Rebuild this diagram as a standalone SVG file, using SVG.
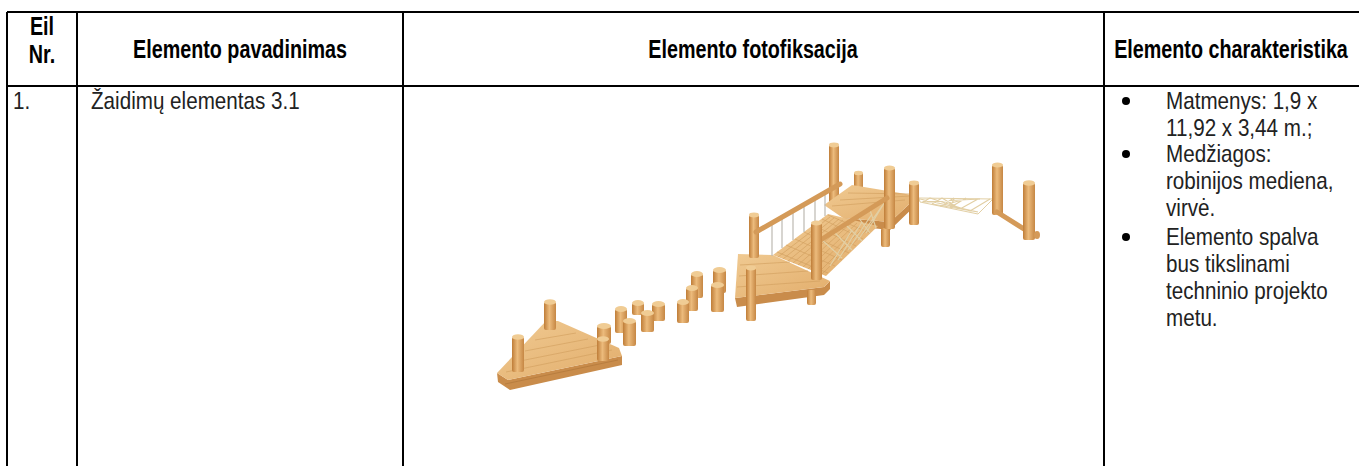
<svg xmlns="http://www.w3.org/2000/svg" width="1359" height="466" viewBox="0 0 1359 466">
<defs>
<style>
.h{font-family:"Liberation Sans",Arial,sans-serif;font-weight:bold;font-size:25px;fill:#000;text-anchor:middle}
.b{font-family:"Liberation Sans",Arial,sans-serif;font-size:24px;fill:#222}
.ln{stroke:#000;stroke-width:2;fill:none}
.post{fill:url(#gPost)}
.cap{fill:#f0cc94}
.deck{fill:url(#gDeck)}
.side{fill:#c98c4b}
.plank{stroke:#d29f5e;stroke-width:0.8;fill:none;opacity:0.8}
.rail{stroke:#d49a58;stroke-width:5;stroke-linecap:round;fill:none}
.rope{stroke:#bdbab2;stroke-width:1.2;fill:none}
.net{stroke:#e2cfa4;stroke-width:1.2;fill:none}
</style>
<linearGradient id="gPost" x1="0" x2="1" y1="0" y2="0">
<stop offset="0" stop-color="#bf7d38"/>
<stop offset="0.45" stop-color="#ecbb7c"/>
<stop offset="1" stop-color="#c68744"/>
</linearGradient>
<linearGradient id="gDeck" x1="0" x2="1" y1="0" y2="1">
<stop offset="0" stop-color="#f0ca92"/>
<stop offset="1" stop-color="#e2ad6b"/>
</linearGradient>
</defs>

<g id="table">
<line class="ln" x1="7" y1="12" x2="1359" y2="12"/>
<line class="ln" x1="7" y1="86" x2="1359" y2="86"/>
<line class="ln" x1="7" y1="12" x2="7" y2="466"/>
<line class="ln" x1="77" y1="12" x2="77" y2="466"/>
<line class="ln" x1="403" y1="12" x2="403" y2="466"/>
<line class="ln" x1="1104" y1="12" x2="1104" y2="466"/>
</g>

<g id="header">
<text class="h" transform="translate(42,35) scale(0.79,1)">Eil</text>
<text class="h" transform="translate(42,63) scale(0.79,1)">Nr.</text>
<text class="h" transform="translate(240,58) scale(0.79,1)">Elemento pavadinimas</text>
<text class="h" transform="translate(753,58) scale(0.79,1)">Elemento fotofiksacija</text>
<text class="h" transform="translate(1231,58) scale(0.79,1)">Elemento charakteristika</text>
</g>

<g id="row1">
<text class="b" transform="translate(13,109) scale(0.86,1)">1.</text>
<text class="b" transform="translate(91,109) scale(0.86,1)">Žaidimų elementas 3.1</text>
<circle cx="1126" cy="101" r="4"/>
<circle cx="1126" cy="154" r="4"/>
<circle cx="1126" cy="237" r="4"/>
<text class="b" transform="translate(1166,109) scale(0.86,1)">Matmenys: 1,9 x</text>
<text class="b" transform="translate(1166,136) scale(0.86,1)">11,92 x 3,44 m.;</text>
<text class="b" transform="translate(1166,162) scale(0.86,1)">Medžiagos:</text>
<text class="b" transform="translate(1166,189) scale(0.86,1)">robinijos mediena,</text>
<text class="b" transform="translate(1166,216) scale(0.86,1)">virvė.</text>
<text class="b" transform="translate(1166,245) scale(0.86,1)">Elemento spalva</text>
<text class="b" transform="translate(1166,272) scale(0.86,1)">bus tikslinami</text>
<text class="b" transform="translate(1166,299) scale(0.86,1)">techninio projekto</text>
<text class="b" transform="translate(1166,326) scale(0.86,1)">metu.</text>
</g>

<g id="photo">
<!-- left triangular platform -->
<polygon class="side" points="497,373 508,380 622,356 622,365 510,390 498,382"/>
<polygon class="deck" points="497,373 546,321 558,321 619,348 622,356 508,380"/>
<path class="plank" d="M506,372 L612,350 M515,362 L600,345 M525,351 L588,339 M535,340 L576,333"/>
<line x1="505" y1="384" x2="618" y2="360" stroke="#b47a3c" stroke-width="0.8"/>
<!-- posts on left platform -->
<rect class="post" x="544" y="302" width="12" height="28" rx="2"/><ellipse class="cap" cx="550" cy="302" rx="6" ry="2.8"/>
<rect class="post" x="597" y="326" width="14" height="18" rx="2"/><ellipse class="cap" cx="604" cy="326" rx="7" ry="3"/>
<rect class="post" x="597" y="339" width="12" height="22" rx="2"/><ellipse class="cap" cx="603" cy="339" rx="6" ry="2.8"/>
<rect class="post" x="512" y="337" width="12" height="35" rx="2"/><ellipse class="cap" cx="518" cy="337" rx="6" ry="2.8"/>

<!-- stepping stumps -->
<rect class="post" x="713" y="270" width="13" height="23" rx="2"/><ellipse class="cap" cx="719.5" cy="270" rx="6.5" ry="3"/>
<rect class="post" x="691" y="274" width="12" height="24" rx="2"/><ellipse class="cap" cx="697" cy="274" rx="6" ry="3"/>
<rect class="post" x="632" y="303" width="12" height="12" rx="2"/><ellipse class="cap" cx="638" cy="303" rx="6" ry="3"/>
<rect class="post" x="652" y="304" width="13" height="17" rx="2"/><ellipse class="cap" cx="658.5" cy="304" rx="6.5" ry="3"/>
<rect class="post" x="686" y="288" width="12" height="23" rx="2"/><ellipse class="cap" cx="692" cy="288" rx="6" ry="3"/>
<rect class="post" x="711" y="285" width="13" height="27" rx="2"/><ellipse class="cap" cx="717.5" cy="285" rx="6.5" ry="3"/>
<rect class="post" x="677" y="302" width="12" height="21" rx="2"/><ellipse class="cap" cx="683" cy="302" rx="6" ry="3"/>
<rect class="post" x="615" y="309" width="12" height="24" rx="2"/><ellipse class="cap" cx="621" cy="309" rx="6" ry="3"/>
<rect class="post" x="641" y="313" width="13" height="19" rx="2"/><ellipse class="cap" cx="647.5" cy="313" rx="6.5" ry="3"/>
<rect class="post" x="623" y="321" width="13" height="25" rx="2"/><ellipse class="cap" cx="629.5" cy="321" rx="6.5" ry="3"/>

<!-- right structure: back posts -->
<rect class="post" x="829" y="145" width="10" height="63" rx="2"/><ellipse class="cap" cx="834" cy="145" rx="5" ry="2.4"/>
<rect class="post" x="854" y="173" width="9" height="17"/><ellipse class="cap" cx="858.5" cy="173" rx="4.5" ry="2.2"/>
<!-- upper platform -->
<polygon class="side" points="843,218 890,222 918,196 918,203 890,230 843,225"/>
<polygon class="deck" points="824,205 852,185 918,196 890,222 843,218"/>
<path class="plank" d="M832,206 L905,200 M840,200 L910,196 M848,193 L914,194"/>
<!-- net between G and H -->
<polygon points="919,198 993,199 978,214 920,202" fill="none" stroke="#e2cfa4" stroke-width="1"/>
<path class="net" d="M930,198 L923,202 M942,198 L932,204 M954,198 L941,206 M966,198 L951,207 M978,199 L960,209 M990,199 L970,211 M932,204 L978,212 M922,202 L980,199 M940,206 L966,199 M950,208 L954,199 M960,209 L942,198 M970,211 L930,198 M978,212 L920,199"/>
<!-- bridge -->
<polygon class="deck" points="773,255 828,214 878,226 826,276"/>
<path class="plank" d="M778,257 L830,217 M783,259 L834,218 M788,261 L839,219 M793,263 L843,220 M798,265 L848,221 M803,267 L852,222 M808,269 L857,223 M813,271 L861,224 M818,273 L866,225 M822,274 L871,226"/>
<path class="plank" d="M777,252 L828,273 M786,245 L835,266 M795,239 L842,260 M804,232 L849,253 M813,225 L856,246 M822,219 L863,239 M828,215 L870,233"/>
<!-- lower platform -->
<polygon class="side" points="735,298 824,287 830,281 830,289 824,295 737,307"/>
<polygon class="deck" points="738,254 773,255 830,281 824,287 735,298"/>
<path class="plank" d="M740,265 L790,262 M739,276 L808,271 M737,287 L820,281"/>
<!-- legs -->
<rect class="post" x="807" y="290" width="9" height="15" rx="2"/>
<rect class="post" x="881" y="228" width="9" height="19" rx="2"/>
<!-- left rail and ropes -->
<rect class="post" x="749" y="215" width="10" height="43" rx="2"/><ellipse class="cap" cx="754" cy="215" rx="5" ry="2.4"/>
<path class="rope" d="M772,222 L772,256 M782,216 L782,248 M793,210 L793,240 M804,204 L804,232 M815,197 L815,224 M825,192 L825,216"/>
<line class="rail" x1="756" y1="232" x2="840" y2="184"/>
<!-- right rail net -->
<path class="net" d="M822,240 L842,258 M834,232 L852,250 M846,225 L862,241 M858,217 L870,233 M870,210 L876,228 M830,266 L852,230 M838,260 L862,222 M848,250 L872,214 M858,240 L882,206 M866,233 L886,200"/>
<!-- front posts -->
<rect class="post" x="884" y="168" width="11" height="61" rx="2"/><ellipse class="cap" cx="889.5" cy="168" rx="5.5" ry="2.6"/>
<line class="rail" x1="819" y1="241" x2="887" y2="198"/>
<rect class="post" x="909" y="183" width="10" height="42" rx="2"/><ellipse class="cap" cx="914" cy="183" rx="5" ry="2.4"/>
<rect class="post" x="811" y="223" width="11" height="57" rx="2"/><ellipse class="cap" cx="816.5" cy="223" rx="5.5" ry="2.6"/>
<rect class="post" x="746" y="268" width="10" height="53" rx="2"/><ellipse class="cap" cx="751" cy="268" rx="5" ry="2.4"/>
<!-- far right posts -->
<rect class="post" x="992" y="165" width="11" height="50" rx="2"/><ellipse class="cap" cx="997.5" cy="165" rx="5.5" ry="2.6"/>
<line class="rail" x1="997" y1="212" x2="1032" y2="234" stroke-width="6"/>
<rect class="post" x="1023" y="183" width="12" height="57" rx="2"/><ellipse class="cap" cx="1029" cy="183" rx="6" ry="2.8"/>
<ellipse cx="1037" cy="235" rx="3" ry="4" fill="#d49a58"/>
</g>
</svg>
